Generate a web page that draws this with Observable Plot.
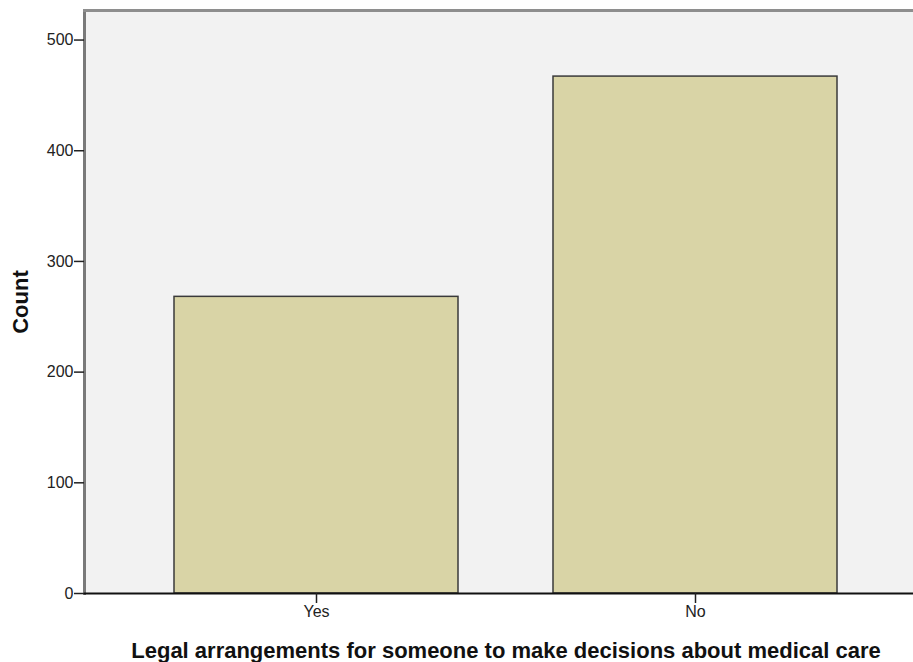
<!DOCTYPE html>
<html>
<head>
<meta charset="utf-8">
<script src="https://cdn.jsdelivr.net/npm/d3@7"></script>
<script src="https://cdn.jsdelivr.net/npm/@observablehq/plot@0.6"></script>
<style>
  html, body { margin: 0; padding: 0; background: #ffffff; }
  #chart svg { display: block; }
</style>
</head>
<body>
<div id="chart"></div>
<script>
const categories = ["Yes", "No"];
const counts = [268, 467];
const yTicks = [0, 100, 200, 300, 400, 500];
const xLabel = "Legal arrangements for someone to make decisions about medical care";
const yLabel = "Count";

const data = categories.map((c, i) => ({category: c, count: counts[i]}));

const font = "'Liberation Sans', Arial, sans-serif";

const chart = Plot.plot({
  width: 913,
  height: 662,
  marginLeft: 84,
  marginRight: 0,
  marginTop: 10,
  marginBottom: 69,
  style: {fontFamily: font, background: "#ffffff", color: "#222"},
  x: {domain: categories, range: [84, 927], paddingInner: 0.25, paddingOuter: 0.235, label: null},
  y: {domain: [0, 526.7], label: null},
  marks: [
    Plot.frame({fill: "#f2f2f2", stroke: null}),
    Plot.barY(data, {x: "category", y: "count", fill: "#d9d4a6", stroke: "#3a3a3a", strokeWidth: 1.5}),
    Plot.frame({anchor: "left", stroke: "#7a7a7a", strokeWidth: 3}),
    Plot.frame({anchor: "top", stroke: "#8e8e8e", strokeWidth: 3}),
    Plot.ruleY([0], {stroke: "#111", strokeWidth: 2}),
    Plot.axisY({ticks: yTicks, tickSize: 10, tickPadding: 1, fontSize: 16, stroke: "#222", strokeWidth: 1.5, label: null}),
    Plot.axisX({tickSize: 10, tickPadding: 2, fontSize: 16, stroke: "#222", strokeWidth: 1.5, label: null}),
    Plot.text([xLabel], {frameAnchor: "bottom", dy: 49, dx: 7, fontSize: 22, fontWeight: "bold", fill: "#111", lineAnchor: "top", textAnchor: "middle"}),
    Plot.text([yLabel], {frameAnchor: "left", dx: -64, rotate: -90, fontSize: 22, fontWeight: "bold", fill: "#111", textAnchor: "middle"})
  ]
});
document.getElementById("chart").appendChild(chart);
</script>
</body>
</html>
